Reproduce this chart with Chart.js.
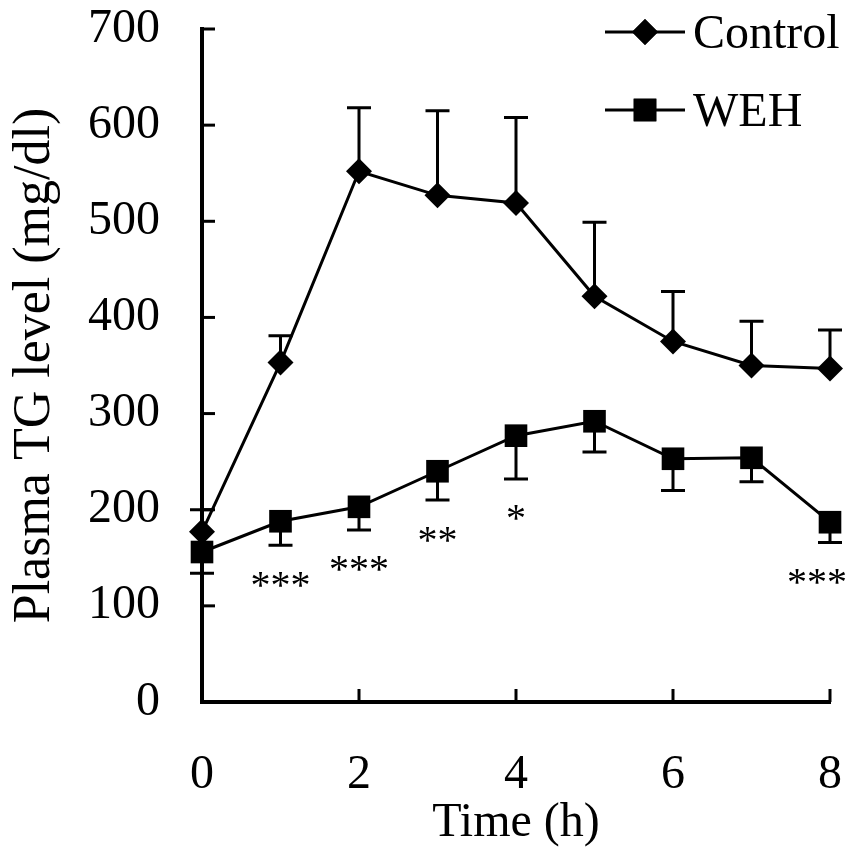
<!DOCTYPE html>
<html>
<head>
<meta charset="utf-8">
<script src="https://cdn.jsdelivr.net/npm/chart.js@4.4.1/dist/chart.umd.min.js"></script>
<style>
  html, body { margin: 0; padding: 0; background: #fff; }
  #wrap { width: 853px; height: 852px; }
</style>
</head>
<body>
<div id="wrap"><canvas id="myChart"></canvas></div>
<script>
var times = [0, 1, 2, 3, 4, 5, 6, 7, 8];
var controlValues = [177, 353, 552, 527, 519, 422, 375, 350, 347];
var controlSE = [23, 28, 66, 88, 89, 77, 52, 46, 40];
var wehValues = [156, 188, 203, 240, 277, 292, 253, 254, 187];
var wehSE = [22, 25, 24, 30, 45, 32, 33, 25, 21];
var wehStars = ["", "***", "***", "**", "*", "", "", "", "***"];
var yTicks = [0, 100, 200, 300, 400, 500, 600, 700];
var xTicks = [0, 2, 4, 6, 8];

var FONT = "'Liberation Serif', 'Times New Roman', serif";

function toPoints(vals) {
  return times.map(function (t, i) { return { x: t, y: vals[i] }; });
}

// error bars, inward ticks, stars and the legend
var extras = {
  id: "extras",
  beforeDatasetsDraw: function (chart) {
    var ctx = chart.ctx, xs = chart.scales.x, ys = chart.scales.y;
    ctx.save();
    ctx.strokeStyle = "#000";
    ctx.lineWidth = 3;
    var sets = [[controlValues, controlSE, 1], [wehValues, wehSE, -1]];
    sets.forEach(function (s) {
      times.forEach(function (t, i) {
        var px = xs.getPixelForValue(t);
        var y0 = ys.getPixelForValue(s[0][i]);
        var y1 = ys.getPixelForValue(s[0][i] + s[2] * s[1][i]);
        ctx.beginPath();
        ctx.moveTo(px, y0);
        ctx.lineTo(px, y1);
        ctx.moveTo(px - 12, y1);
        ctx.lineTo(px + 12, y1);
        ctx.stroke();
      });
    });
    ctx.restore();
  },
  afterDraw: function (chart) {
    var ctx = chart.ctx, xs = chart.scales.x, ys = chart.scales.y;
    var area = chart.chartArea;
    ctx.save();
    ctx.strokeStyle = "#000";
    ctx.lineWidth = 3;
    // ticks pointing into the plot
    yTicks.forEach(function (v) {
      var py = ys.getPixelForValue(v);
      ctx.beginPath();
      ctx.moveTo(area.left, py);
      ctx.lineTo(area.left + 13, py);
      ctx.stroke();
    });
    xTicks.forEach(function (v) {
      var px = xs.getPixelForValue(v);
      ctx.beginPath();
      ctx.moveTo(px, area.bottom);
      ctx.lineTo(px, area.bottom - 13);
      ctx.stroke();
    });

    // significance stars below the WEH error bars
    ctx.fillStyle = "#000";
    ctx.font = "40px " + FONT;
    ctx.textAlign = "center";
    ctx.textBaseline = "middle";
    wehStars.forEach(function (s, i) {
      if (!s) return;
      var px = xs.getPixelForValue(times[i]);
      var py = ys.getPixelForValue(wehValues[i] - wehSE[i]);
      var half = ctx.measureText(s).width / 2;
      px = Math.min(px, chart.width - 6 - half);
      ctx.fillText(s, px, py + 42);
    });

    // legend: line - marker - line, then label
    var rows = [32, 110];
    chart.data.datasets.forEach(function (ds, i) {
      var y = rows[i];
      ctx.lineWidth = 3;
      ctx.beginPath();
      ctx.moveTo(605, y);
      ctx.lineTo(685, y);
      ctx.stroke();
      Chart.helpers.drawPoint(ctx, {
        pointStyle: ds.pointStyle,
        radius: ds.pointRadius,
        borderWidth: 0,
        rotation: 0
      }, 645, y);
      ctx.fill();
      ctx.font = "48px " + FONT;
      ctx.textAlign = "left";
      ctx.textBaseline = "middle";
      ctx.fillText(ds.label, 693, y + 3);
    });
    ctx.restore();
  }
};

new Chart("myChart", {
  type: "line",
  data: {
    datasets: [
      {
        label: "Control",
        data: toPoints(controlValues),
        borderColor: "#000",
        backgroundColor: "#000",
        borderWidth: 3,
        pointStyle: "rectRot",
        pointRadius: 13,
        pointBorderWidth: 0,
        pointBackgroundColor: "#000",
        clip: false
      },
      {
        label: "WEH",
        data: toPoints(wehValues),
        borderColor: "#000",
        backgroundColor: "#000",
        borderWidth: 3,
        pointStyle: "rect",
        pointRadius: 16,
        pointBorderWidth: 0,
        pointBackgroundColor: "#000",
        clip: false
      }
    ]
  },
  options: {
    responsive: true,
    maintainAspectRatio: false,
    animation: false,
    layout: { padding: { top: 29, right: 23, bottom: 0, left: 0 } },
    plugins: {
      legend: { display: false },
      tooltip: { enabled: false },
      title: { display: false }
    },
    scales: {
      x: {
        type: "linear",
        min: 0,
        max: 8,
        afterFit: function (scale) {
          scale.height = 150;
          scale.paddingLeft = 0;
          scale.paddingRight = 0;
        },
        grid: { display: false, drawTicks: false },
        border: { display: true, width: 4, color: "#000" },
        ticks: {
          stepSize: 2,
          padding: 45,
          color: "#000",
          font: { family: FONT, size: 48 }
        },
        title: {
          display: true,
          text: "Time (h)",
          color: "#000",
          font: { family: FONT, size: 48 },
          padding: { top: 0, bottom: 0 }
        }
      },
      y: {
        min: 0,
        max: 700,
        afterFit: function (scale) {
          scale.width = 202;
          scale.paddingTop = 0;
          scale.paddingBottom = 0;
        },
        grid: { display: false, drawTicks: false },
        border: { display: true, width: 4, color: "#000" },
        ticks: {
          stepSize: 100,
          padding: 42,
          color: "#000",
          font: { family: FONT, size: 48 }
        },
        title: {
          display: true,
          text: "Plasma TG level (mg/dl)",
          color: "#000",
          font: { family: FONT, size: 52 },
          padding: { top: 4, bottom: 0 }
        }
      }
    }
  },
  plugins: [extras]
});
</script>
</body>
</html>
